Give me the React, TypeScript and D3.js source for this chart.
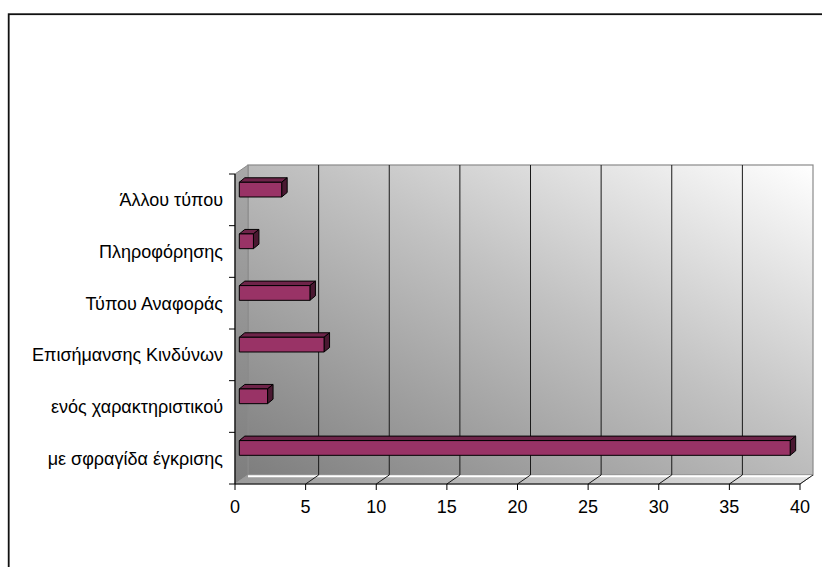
import React from 'react';
import * as d3 from 'd3';

// Document categories (bottom to top) and their counts
const categories = [
  'με σφραγίδα έγκρισης',
  'ενός χαρακτηριστικού',
  'Επισήμανσης Κινδύνων',
  'Τύπου Αναφοράς',
  'Πληροφόρησης',
  'Άλλου τύπου',
];
const values = [39, 2, 6, 5, 1, 3];
const xTicks = [0, 5, 10, 15, 20, 25, 30, 35, 40];

const W = 822;
const H = 567;

// front plane of the 3D plot box
const left = 235;
const right = 800;
const top = 174;
const bottom = 484;
// depth offset of the back wall
const DX = 13;
const DY = -9;
// depth offset of the bars
const BDX = 5.5;
const BDY = -4.5;
const BAR_SHIFT = 4.3;

const FONT = 'Arial, "Liberation Sans", sans-serif';

export default function App() {
  const x = d3.scaleLinear().domain([0, 40]).range([left, right]);
  const y = d3.scaleBand<string>().domain(categories).range([bottom, top]);
  const bw = y.bandwidth();

  const pts = (p: [number, number][]) => p.map((q) => q.join(',')).join(' ');

  const bars = categories.map((c, i) => {
    const v = values[i];
    const x0 = x(0) + BAR_SHIFT;
    const x1 = x(v) + BAR_SHIFT;
    const y0 = (y(c) as number) + bw * 0.16;
    const h = bw * 0.285;
    return (
      <g key={c} stroke="#000" strokeWidth={1} strokeLinejoin="round">
        <polygon
          points={pts([
            [x0, y0],
            [x0 + BDX, y0 + BDY],
            [x1 + BDX, y0 + BDY],
            [x1, y0],
          ])}
          fill="#6e2449"
        />
        <polygon
          points={pts([
            [x1, y0],
            [x1 + BDX, y0 + BDY],
            [x1 + BDX, y0 + h + BDY],
            [x1, y0 + h],
          ])}
          fill="#4a1831"
        />
        <rect x={x0} y={y0} width={x1 - x0} height={h} fill="#993366" />
      </g>
    );
  });

  const yTickPos = [...categories.map((c) => y(c) as number), bottom];

  return (
    <svg
      width={W}
      height={H}
      style={{ position: 'absolute', left: 0, top: 0, display: 'block', background: '#fff' }}
      fontFamily={FONT}
    >
      <defs>
        <linearGradient id="wall" x1="0" y1="1" x2="1" y2="0">
          <stop offset="0" stopColor="#7e7e7e" />
          <stop offset="0.55" stopColor="#c2c2c2" />
          <stop offset="1" stopColor="#ffffff" />
        </linearGradient>
        <linearGradient id="side" x1="0" y1="0" x2="0" y2="1">
          <stop offset="0" stopColor="#a8a8a8" />
          <stop offset="1" stopColor="#7e7e7e" />
        </linearGradient>
        <linearGradient id="floor" x1="0" y1="0" x2="1" y2="0">
          <stop offset="0" stopColor="#9a9a9a" />
          <stop offset="1" stopColor="#e2e2e2" />
        </linearGradient>
      </defs>

      {/* outer frame */}
      <rect x={8.7} y={14.2} width={900} height={700} fill="none" stroke="#111" strokeWidth={1.8} />

      {/* back wall */}
      <rect
        x={left + DX}
        y={top + DY}
        width={right - left}
        height={bottom - top}
        fill="url(#wall)"
        stroke="#8a8a8a"
        strokeWidth={1.2}
      />
      {/* side wall */}
      <polygon
        points={pts([
          [left, top],
          [left + DX, top + DY],
          [left + DX, bottom + DY],
          [left, bottom],
        ])}
        fill="url(#side)"
        stroke="#8a8a8a"
        strokeWidth={1}
      />
      {/* floor */}
      <polygon
        points={pts([
          [left, bottom],
          [left + DX, bottom + DY],
          [right + DX, bottom + DY],
          [right, bottom],
        ])}
        fill="url(#floor)"
        stroke="#9a9a9a"
        strokeWidth={1}
      />
      <line
        x1={left + DX}
        x2={right + DX}
        y1={bottom + DY + 1.2}
        y2={bottom + DY + 1.2}
        stroke="#fff"
        strokeWidth={2}
      />

      {/* gridlines on back wall and floor */}
      {xTicks.map((t) => (
        <g key={t} stroke="#1a1a1a" strokeWidth={1}>
          {t > 0 && t < 40 && (
            <line x1={x(t) + DX} x2={x(t) + DX} y1={top + DY} y2={bottom + DY} />
          )}
          {t > 0 && <line x1={x(t)} y1={bottom} x2={x(t) + DX} y2={bottom + DY} />}
        </g>
      ))}

      {/* axes */}
      <line x1={left} x2={left} y1={top} y2={bottom} stroke="#000" strokeWidth={1.2} />
      <line x1={left} x2={right} y1={bottom} y2={bottom} stroke="#000" strokeWidth={1.2} />
      {yTickPos.map((p, i) => (
        <line key={i} x1={left - 6} x2={left} y1={p} y2={p} stroke="#000" strokeWidth={1} />
      ))}
      {xTicks.map((t) => (
        <line key={t} x1={x(t)} x2={x(t)} y1={bottom} y2={bottom + 6} stroke="#000" strokeWidth={1} />
      ))}

      {bars}

      {/* tick labels */}
      {xTicks.map((t) => (
        <text key={t} x={x(t)} y={512.5} textAnchor="middle" fontSize={18} fill="#000">
          {t}
        </text>
      ))}
      {categories.map((c) => (
        <text
          key={c}
          x={223}
          y={(y(c) as number) + bw / 2}
          dy="0.36em"
          textAnchor="end"
          fontSize={18}
          fill="#000"
        >
          {c}
        </text>
      ))}
    </svg>
  );
}
